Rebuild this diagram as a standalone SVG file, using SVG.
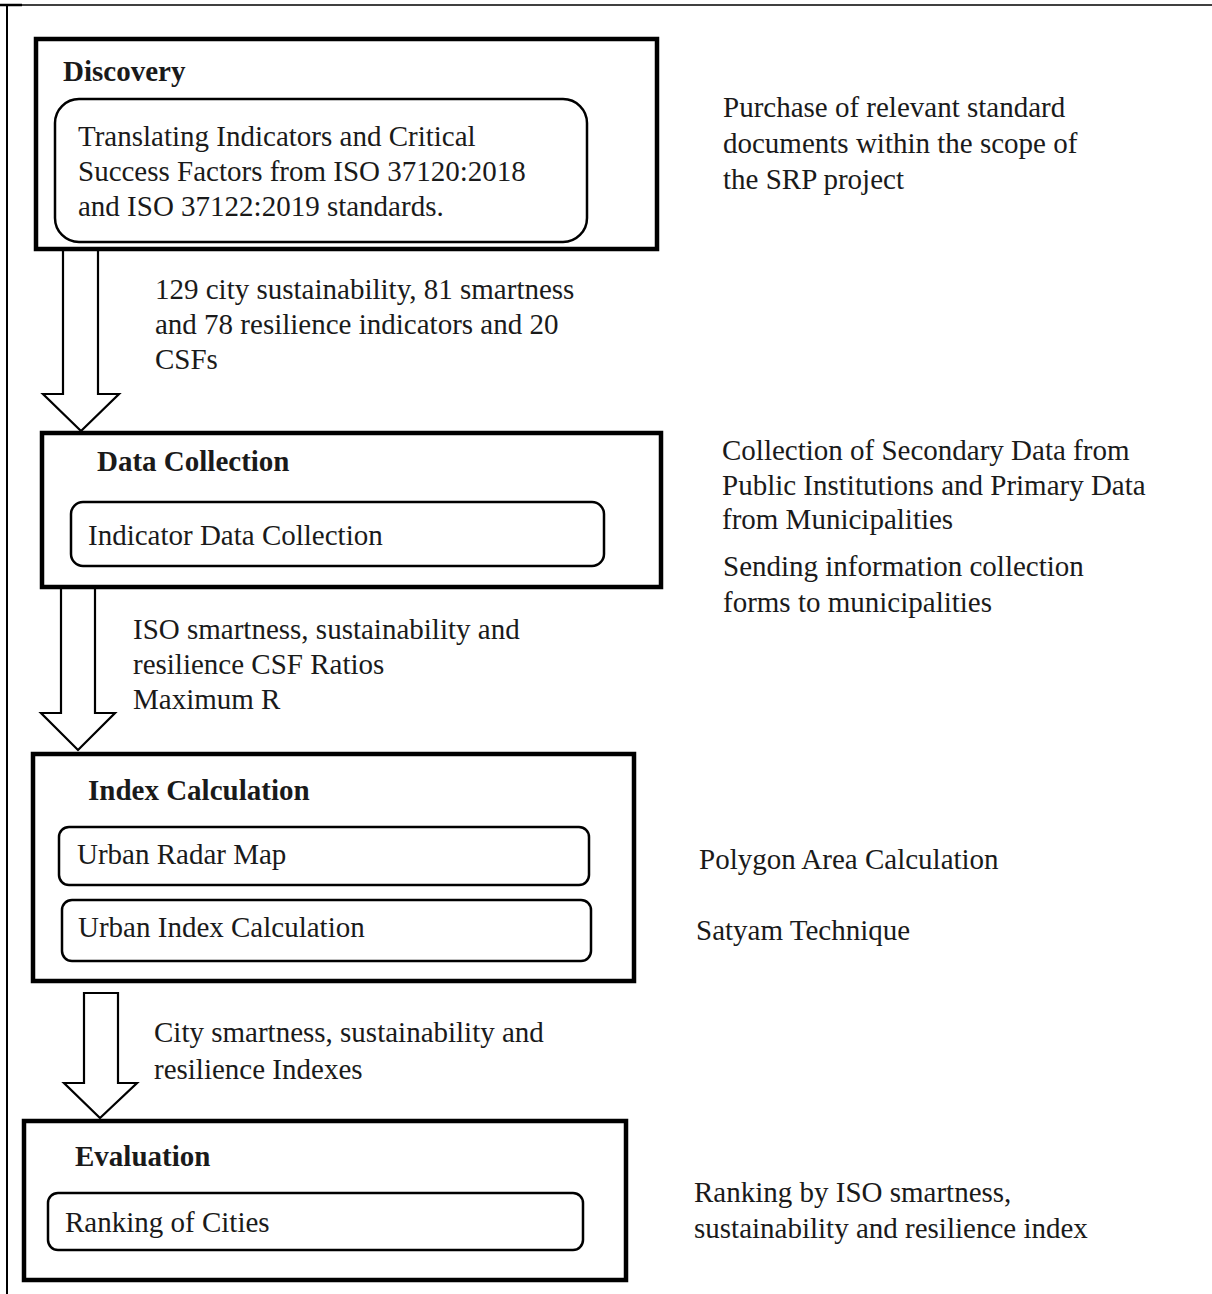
<svg xmlns="http://www.w3.org/2000/svg" width="1212" height="1294" viewBox="0 0 1212 1294">
<style>
text{font-family:"Liberation Serif","Times New Roman",serif;font-size:29px;fill:#1a1a1a}
.t{font-weight:bold}
.box{fill:none;stroke:#000;stroke-width:4.5}
.inner{fill:none;stroke:#000;stroke-width:2.5}
.arrow{fill:#fff;stroke:#000;stroke-width:2.2;stroke-linejoin:miter}
</style>
<rect width="1212" height="1294" fill="#fff"/>
<g id="frame">
<line x1="7" y1="5" x2="1212" y2="5" stroke="#000" stroke-width="1.5"/>
<line x1="0" y1="5" x2="22" y2="5" stroke="#000" stroke-width="2.5"/>
<line x1="7" y1="5" x2="7" y2="1294" stroke="#000" stroke-width="2"/>
</g>
<g id="connectors">
<path class="arrow" d="M63,250 V394 H43 L81,431 L119,394 H98 V250"/>
<path class="arrow" d="M61,589 V713 H41 L78,750 L115,713 H95 V589"/>
<path class="arrow" d="M84,993 V1083 H64 L100,1118 L137,1083 H118 V993 Z"/>
<text x="155" y="299">129 city sustainability, 81 smartness</text>
<text x="155" y="334">and 78 resilience indicators and 20</text>
<text x="155" y="369">CSFs</text>
<text x="133" y="639">ISO smartness, sustainability and</text>
<text x="133" y="674">resilience CSF Ratios</text>
<text x="133" y="709">Maximum R</text>
<text x="154" y="1042">City smartness, sustainability and</text>
<text x="154" y="1079">resilience Indexes</text>
</g>
<g id="discovery">
<rect class="box" x="36" y="39" width="621" height="210"/>
<text class="t" x="63" y="81">Discovery</text>
<rect class="inner" x="55" y="99" width="532" height="143" rx="24"/>
<text x="78" y="146">Translating Indicators and Critical</text>
<text x="78" y="181">Success Factors from ISO 37120:2018</text>
<text x="78" y="216">and ISO 37122:2019 standards.</text>
</g>
<g id="discovery-note">
<text x="723" y="117">Purchase of relevant standard</text>
<text x="723" y="153">documents within the scope of</text>
<text x="723" y="189">the SRP project</text>
</g>
<g id="data-collection">
<rect class="box" x="42" y="433" width="619" height="154"/>
<text class="t" x="97" y="471">Data Collection</text>
<rect class="inner" x="71" y="502" width="533" height="64" rx="12"/>
<text x="88" y="545">Indicator Data Collection</text>
</g>
<g id="data-collection-note">
<text x="722" y="460">Collection of Secondary Data from</text>
<text x="722" y="495">Public Institutions and Primary Data</text>
<text x="722" y="529">from Municipalities</text>
<text x="723" y="576">Sending information collection</text>
<text x="723" y="612">forms to municipalities</text>
</g>
<g id="index-calculation">
<rect class="box" x="33" y="754" width="601" height="227"/>
<text class="t" x="88" y="800">Index Calculation</text>
<rect class="inner" x="59" y="827" width="530" height="58" rx="10"/>
<text x="77" y="864">Urban Radar Map</text>
<rect class="inner" x="62" y="900" width="529" height="61" rx="10"/>
<text x="78" y="937">Urban Index Calculation</text>
</g>
<g id="index-notes">
<text x="699" y="869">Polygon Area Calculation</text>
<text x="696" y="940">Satyam Technique</text>
</g>
<g id="evaluation">
<rect class="box" x="24" y="1121" width="602" height="159"/>
<text class="t" x="75" y="1166">Evaluation</text>
<rect class="inner" x="48" y="1193" width="535" height="57" rx="10"/>
<text x="65" y="1232">Ranking of Cities</text>
</g>
<g id="evaluation-note">
<text x="694" y="1202">Ranking by ISO smartness,</text>
<text x="694" y="1238">sustainability and resilience index</text>
</g>
</svg>
